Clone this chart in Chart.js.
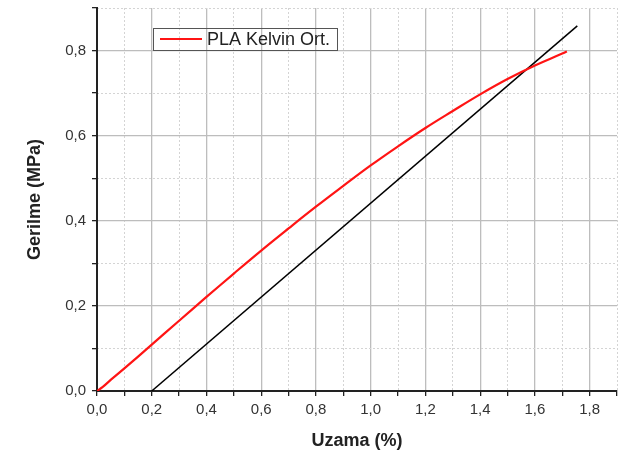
<!DOCTYPE html>
<html>
<head>
<meta charset="utf-8">
<script src="https://cdn.jsdelivr.net/npm/chart.js@4/dist/chart.umd.min.js"></script>
<style>
  body { margin: 0; background: #fff; }
  #wrap { width: 619px; height: 452px; }
</style>
</head>
<body>
<div id="wrap"><canvas id="c" width="619" height="452"></canvas></div>
<script>
// strain (%) and stress (MPa)
const strainRed = [0, 0.02, 0.05, 0.1, 0.2, 0.3, 0.4, 0.5, 0.6, 0.7, 0.8, 0.9, 1.0, 1.1, 1.2, 1.3, 1.4, 1.5, 1.6, 1.7, 1.717];
const stressRed = [0, 0.009, 0.026, 0.053, 0.109, 0.165, 0.221, 0.276, 0.330, 0.382, 0.433, 0.482, 0.530, 0.575, 0.618, 0.658, 0.697, 0.733, 0.765, 0.793, 0.798];
// offset line (0,2 %)
const strainOffset = [0.2, 1.755];
const stressOffset = [0, 0.858];

const xMin = 0, xMax = 1.9, yMin = 0, yMax = 0.9;
const legendLabel = 'PLA Kelvin Ort.';

const fmt = v => v.toFixed(1).replace('.', ',');
const isMajor = v => Math.round(v * 10) % 2 === 0;

const redPts = strainRed.map((x, i) => ({ x: x, y: stressRed[i] }));
const blackPts = strainOffset.map((x, i) => ({ x: x, y: stressOffset[i] }));

const FONT = '"Liberation Sans", Arial, sans-serif';

const legendBox = {
  id: 'legendBox',
  afterDraw(chart) {
    const ctx = chart.ctx;
    ctx.save();
    ctx.strokeStyle = '#555';
    ctx.lineWidth = 1;
    ctx.strokeRect(153.5, 28.5, 184, 22);
    ctx.strokeStyle = '#ff1414';
    ctx.lineWidth = 2;
    ctx.beginPath();
    ctx.moveTo(160, 39);
    ctx.lineTo(202, 39);
    ctx.stroke();
    ctx.fillStyle = '#222';
    ctx.font = '18px ' + FONT;
    ctx.textBaseline = 'middle';
    ctx.fillText(chart.data.datasets[0].label, 207, 40);
    ctx.restore();
  }
};

const minorGrid = (ctx) => {
  const v = ctx.tick ? ctx.tick.value : 0;
  return isMajor(v) ? 'rgba(0,0,0,0)' : '#d4d4d4';
};
const majorGrid = (ctx) => {
  const v = ctx.tick ? ctx.tick.value : 0;
  if (v === 0) return 'rgba(0,0,0,0)';
  return isMajor(v) ? '#bdbdbd' : 'rgba(0,0,0,0)';
};

// no extra room for the (empty) end labels
const noPad = s => { s.paddingTop = 0; s.paddingBottom = 0; s.paddingLeft = 0; s.paddingRight = 0; };

new Chart(document.getElementById('c'), {
  type: 'line',
  data: {
    datasets: [
      {
        label: legendLabel,
        data: redPts,
        borderColor: '#ff1414',
        borderWidth: 2.2,
        pointRadius: 0,
        tension: 0.4
      },
      {
        label: '',
        data: blackPts,
        borderColor: '#000',
        borderWidth: 1.5,
        pointRadius: 0
      }
    ]
  },
  options: {
    responsive: false,
    animation: false,
    layout: { padding: { top: 8, right: 2, left: 0, bottom: 0 } },
    plugins: {
      legend: { display: false },
      tooltip: { enabled: false }
    },
    scales: {
      x: {
        type: 'linear',
        min: xMin, max: xMax,
        afterFit: s => { s.height = 61; noPad(s); },
        ticks: {
          stepSize: 0.1,
          autoSkip: false,
          maxRotation: 0,
          padding: 5,
          color: '#333',
          font: { family: FONT, size: 15 },
          callback: v => isMajor(v) ? fmt(v) : ''
        },
        grid: { color: majorGrid, lineWidth: 1.3, tickColor: '#222', tickLength: 5, tickWidth: 1.3 },
        border: { color: '#222', width: 2 },
        title: {
          display: true,
          text: 'Uzama (%)',
          color: '#222',
          font: { family: FONT, size: 18, weight: 'bold' },
          padding: { top: 0, bottom: 0 }
        }
      },
      xm: {
        type: 'linear',
        position: 'bottom',
        min: xMin, max: xMax,
        afterFit: s => { s.height = 0; noPad(s); },
        ticks: { display: false, stepSize: 0.1 },
        grid: { color: minorGrid, lineWidth: 1, drawTicks: false },
        border: { display: false, dash: [2, 2] }
      },
      y: {
        type: 'linear',
        min: yMin, max: yMax,
        afterFit: s => { s.width = 97; noPad(s); },
        ticks: {
          stepSize: 0.1,
          autoSkip: false,
          padding: 6,
          color: '#333',
          font: { family: FONT, size: 15 },
          callback: v => isMajor(v) ? fmt(v) : ''
        },
        grid: { color: majorGrid, lineWidth: 1.3, tickColor: '#222', tickLength: 5, tickWidth: 1.3 },
        border: { color: '#222', width: 2 },
        title: {
          display: true,
          text: 'Gerilme (MPa)',
          color: '#222',
          font: { family: FONT, size: 18, weight: 'bold' },
          padding: { top: 24, bottom: 0 }
        }
      },
      ym: {
        type: 'linear',
        position: 'left',
        min: yMin, max: yMax,
        afterFit: s => { s.width = 0; noPad(s); },
        ticks: { display: false, stepSize: 0.1 },
        grid: { color: minorGrid, lineWidth: 1, drawTicks: false },
        border: { display: false, dash: [2, 2] }
      }
    }
  },
  plugins: [legendBox]
});
</script>
</body>
</html>
